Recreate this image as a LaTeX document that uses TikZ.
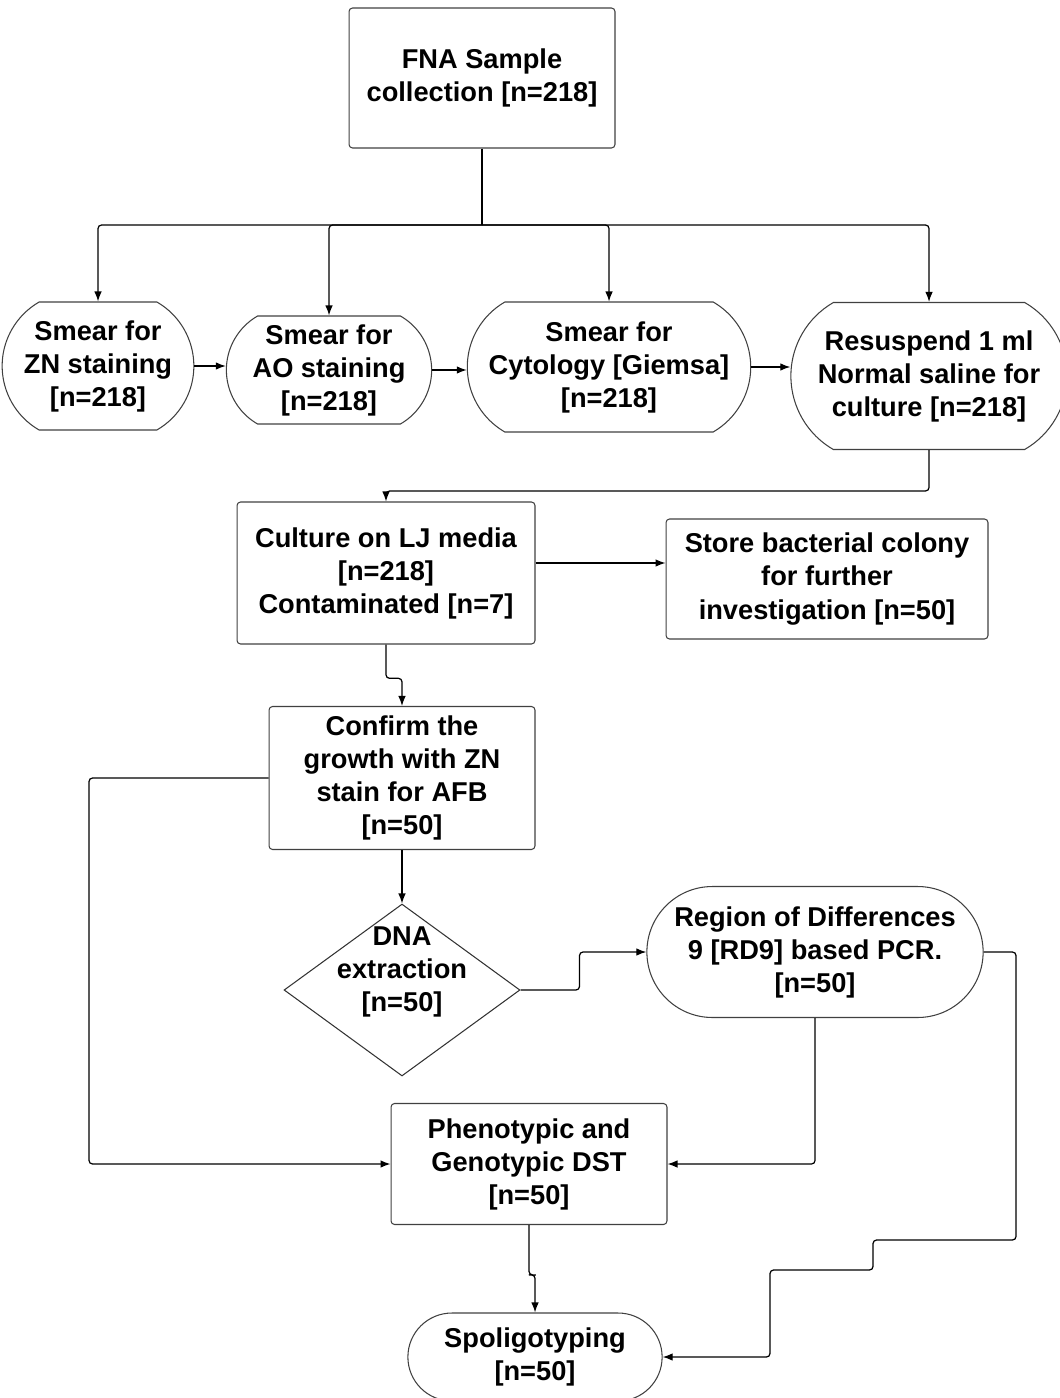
\documentclass[tikz,border=0pt]{standalone}
\usepackage{fontspec}
\setmainfont{Liberation Sans}
\usepackage{tikz}
\usetikzlibrary{calc,positioning,arrows.meta,shapes.geometric,shapes.misc}

\begin{document}
\begin{tikzpicture}[x=0.02cm, y=-0.02cm, align=center,
    font=\bfseries\fontsize{15.5}{18.8}\selectfont,
    box/.style={draw=black!75, rounded corners=2pt, line width=0.6pt},
    term/.style={draw=black!75, rounded rectangle, rounded rectangle arc length=#1, line width=0.6pt},
    term/.default=120,
    dia/.style={draw=black!80, diamond, inner sep=0pt, line width=0.6pt},
    flow/.style={-{Latex[length=2mm,width=1.5mm]}, line width=0.7pt, rounded corners=2pt}]
    \useasboundingbox (0,0) rectangle (1060,1398);

    \node [box, minimum width=5.32cm, minimum height=2.8cm] (fna) at (482,78) {FNA Sample\\collection [n=218]};

    \node [term, minimum width=3.72cm, minimum height=2.56cm] (zn) at (98,366) {Smear for\\ZN staining\\{}[n=218]};
    \node [term, minimum width=4.34cm, minimum height=2.16cm] (ao) at (329,370) {Smear for\\AO staining\\{}[n=218]};
    \node [term, minimum width=5.6cm, minimum height=2.6cm] (cyto) at (609,367) {Smear for\\Cytology [Giemsa]\\{}[n=218]};
    \node [term, minimum width=5.76cm, minimum height=2.94cm] (resus) at (929,376) {Resuspend 1 ml\\Normal saline for\\culture [n=218]};

    \node [box, minimum width=5.96cm, minimum height=2.84cm] (culture) at (386,573) {Culture on LJ media\\{}[n=218]\\Contaminated [n=7]};
    \node [box, minimum width=6.44cm, minimum height=2.4cm] (store) at (827,579) {Store bacterial colony\\for further\\investigation [n=50]};

    \node [box, minimum width=5.32cm, minimum height=2.86cm] (confirm) at (402,778) {Confirm the\\growth with ZN\\stain for AFB\\{}[n=50]};
    \node [dia, minimum width=4.72cm, minimum height=3.44cm, label={[yshift=0.36cm]center:{DNA\\extraction\\{}[n=50]}}] (dna) at (402,990) {};
    \node [term=180, minimum width=6.96cm, minimum height=2.62cm] (rd9) at (815,952) {Region of Differences\\9 [RD9] based PCR.\\{}[n=50]};

    \node [box, minimum width=5.52cm, minimum height=2.42cm] (phen) at (529,1164) {Phenotypic and\\Genotypic DST\\{}[n=50]};
    \node [term=180, minimum width=5.32cm, minimum height=1.76cm] (spoligo) at (535,1357) {Spoligotyping\\{}[n=50]};

    \coordinate (bus) at (482,225);
    \coordinate (k1) at (386,491);
    \coordinate (lft) at (89,1164);

    \draw[line width=1pt] (fna) -- (bus);
    \draw[flow] (bus) -| (zn);
    \draw[flow] (bus) -| (ao);
    \draw[flow] (bus) -| (cyto);
    \draw[flow] (bus) -| (resus);
    \draw[flow] (zn.east) -- (zn.east -| ao.west);
    \draw[flow] (ao.east) -- (ao.east -| cyto.west);
    \draw[flow] (cyto.east) -- (cyto.east -| resus.west);
    \draw[flow] (resus) |- (k1) -- (culture);
    \draw[flow] (culture.east |- 0,563) -- (store.west |- 0,563);
    \draw[flow] (culture) |- ($(culture.south)!0.55!(confirm.north)$) -| (confirm);
    \draw[flow] (confirm) -| (lft) -- (phen);
    \draw[flow] (confirm) -- (dna);
    \draw[flow] (dna.east) -- ++(59,0) |- (rd9);
    \draw[flow] (rd9) |- (phen);
    \draw[flow] (rd9.east) -| (1016,1240) -| (873,1270) -| (770,1357) -- (spoligo);
    \draw[flow] (phen) |- ($(phen.south)!0.57!(spoligo.north)$) -| (spoligo);

\end{tikzpicture}
\end{document}
